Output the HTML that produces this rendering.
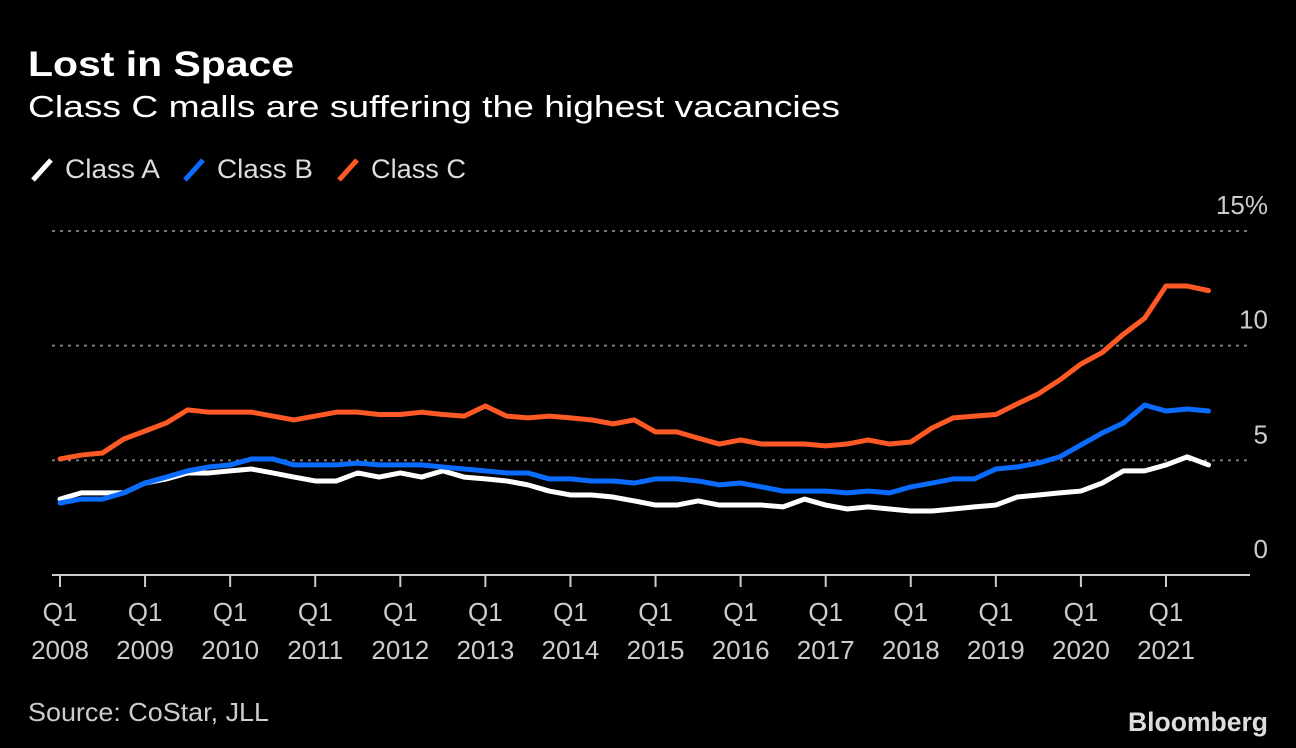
<!DOCTYPE html>
<html><head><meta charset="utf-8"><style>
html,body{margin:0;padding:0;background:#000;}
svg{display:block;font-family:"Liberation Sans",sans-serif;}
</style></head><body>
<svg id="chart" width="1296" height="748" viewBox="0 0 1296 748">
<rect width="1296" height="748" fill="#000"/>
<text x="28" y="76" fill="#fff" font-size="35" font-weight="bold" textLength="266" lengthAdjust="spacingAndGlyphs">Lost in Space</text>
<text x="28" y="117" fill="#fff" font-size="31" textLength="812" lengthAdjust="spacingAndGlyphs">Class C malls are suffering the highest vacancies</text>
<g>
<g><line x1="33" y1="180" x2="51" y2="160" stroke="#fff" stroke-width="5"/><text x="65" y="178" fill="#ddd" font-size="27" textLength="95" lengthAdjust="spacingAndGlyphs">Class A</text></g>
<g><line x1="185" y1="180" x2="203" y2="160" stroke="#0a6cff" stroke-width="5"/><text x="217" y="178" fill="#ddd" font-size="27" textLength="96" lengthAdjust="spacingAndGlyphs">Class B</text></g>
<g><line x1="339" y1="180" x2="357" y2="160" stroke="#ff5a26" stroke-width="5"/><text x="371" y="178" fill="#ddd" font-size="27" textLength="95" lengthAdjust="spacingAndGlyphs">Class C</text></g>
</g>
<g id="grid"></g><g id="axes"></g><g id="series"></g>
<text x="28" y="721" fill="#ccc" font-size="26" textLength="241" lengthAdjust="spacingAndGlyphs">Source: CoStar, JLL</text>
<text x="1268" y="731" fill="#ddd" font-size="27" font-weight="bold" text-anchor="end" textLength="140" lengthAdjust="spacingAndGlyphs">Bloomberg</text>
</svg>
<script>
const years=["2008","2009","2010","2011","2012","2013","2014","2015","2016","2017","2018","2019","2020","2021"];
const yTicks=[0,5,10,15];
const yTickLabels=["0","5","10","15%"];
const classA=[3.31,3.58,3.58,3.58,4.01,4.19,4.45,4.45,4.54,4.62,4.45,4.27,4.1,4.1,4.45,4.27,4.45,4.27,4.54,4.27,4.19,4.1,3.93,3.66,3.49,3.49,3.4,3.23,3.05,3.05,3.23,3.05,3.05,3.05,2.97,3.31,3.05,2.88,2.97,2.88,2.79,2.79,2.88,2.97,3.05,3.4,3.49,3.58,3.66,4.01,4.54,4.54,4.8,5.15,4.8];
const classB=[3.14,3.31,3.31,3.58,4.01,4.27,4.54,4.71,4.8,5.06,5.06,4.8,4.8,4.8,4.88,4.8,4.8,4.8,4.71,4.62,4.54,4.45,4.45,4.19,4.19,4.1,4.1,4.01,4.19,4.19,4.1,3.93,4.01,3.84,3.66,3.66,3.66,3.58,3.66,3.58,3.84,4.01,4.19,4.19,4.62,4.71,4.88,5.15,5.67,6.19,6.63,7.41,7.15,7.24,7.15];
const classC=[5.06,5.23,5.32,5.93,6.28,6.63,7.2,7.1,7.1,7.1,6.93,6.76,6.93,7.1,7.1,7.0,7.0,7.1,7.0,6.93,7.37,6.93,6.85,6.93,6.85,6.76,6.59,6.76,6.24,6.24,5.97,5.71,5.89,5.71,5.71,5.71,5.63,5.71,5.89,5.71,5.8,6.41,6.85,6.93,7.0,7.46,7.9,8.5,9.2,9.7,10.5,11.2,12.6,12.6,12.4];
const NS="http://www.w3.org/2000/svg";
const x0=60,qw=(1166-60)/52,yBase=575,yUnit=(575-231)/15;
const xs=i=>x0+i*qw, ys=v=>yBase-v*yUnit;
function mk(tag,attrs,parent){const e=document.createElementNS(NS,tag);for(const k in attrs)e.setAttribute(k,attrs[k]);parent.appendChild(e);return e;}
const grid=document.getElementById('grid'),axes=document.getElementById('axes'),series=document.getElementById('series');
yTicks.forEach((t,i)=>{
  if(t>0){const g=mk('line',{x1:52,x2:1250,y1:ys(t),y2:ys(t),stroke:'#777','stroke-width':2,'stroke-dasharray':'3 5'},grid);
  
  }
  const lb=mk('text',{x:1268,y:ys(t)-17,fill:'#ccc','font-size':26,'text-anchor':'end'},axes);
  lb.textContent=yTickLabels[i];
  
  
});
const base=mk('line',{x1:52,x2:1250,y1:yBase,y2:yBase,stroke:'#ccc','stroke-width':2},axes);


years.forEach((yr,i)=>{
  const x=xs(i*4);
  const tk=mk('line',{x1:x,x2:x,y1:yBase,y2:yBase+12,stroke:'#ccc','stroke-width':2},axes);
  
  
  const g=mk('text',{x:x,fill:'#ccc','font-size':26,'text-anchor':'middle'},axes);
  
  
  const t1=mk('tspan',{x:x,y:621},g);t1.textContent='Q1';
  const t2=mk('tspan',{x:x,y:659},g);t2.textContent=yr;
});
[[classA,'#fff','class-a'],[classB,'#0a6cff','class-b'],[classC,'#ff5a26','class-c']].forEach(([d,c,n])=>{
  const p=mk('polyline',{points:d.map((v,i)=>xs(i)+','+ys(v)).join(' '),fill:'none',stroke:c,'stroke-width':5,'stroke-linejoin':'round','stroke-linecap':'round'},series);
  
  
});
</script>
</body></html>
